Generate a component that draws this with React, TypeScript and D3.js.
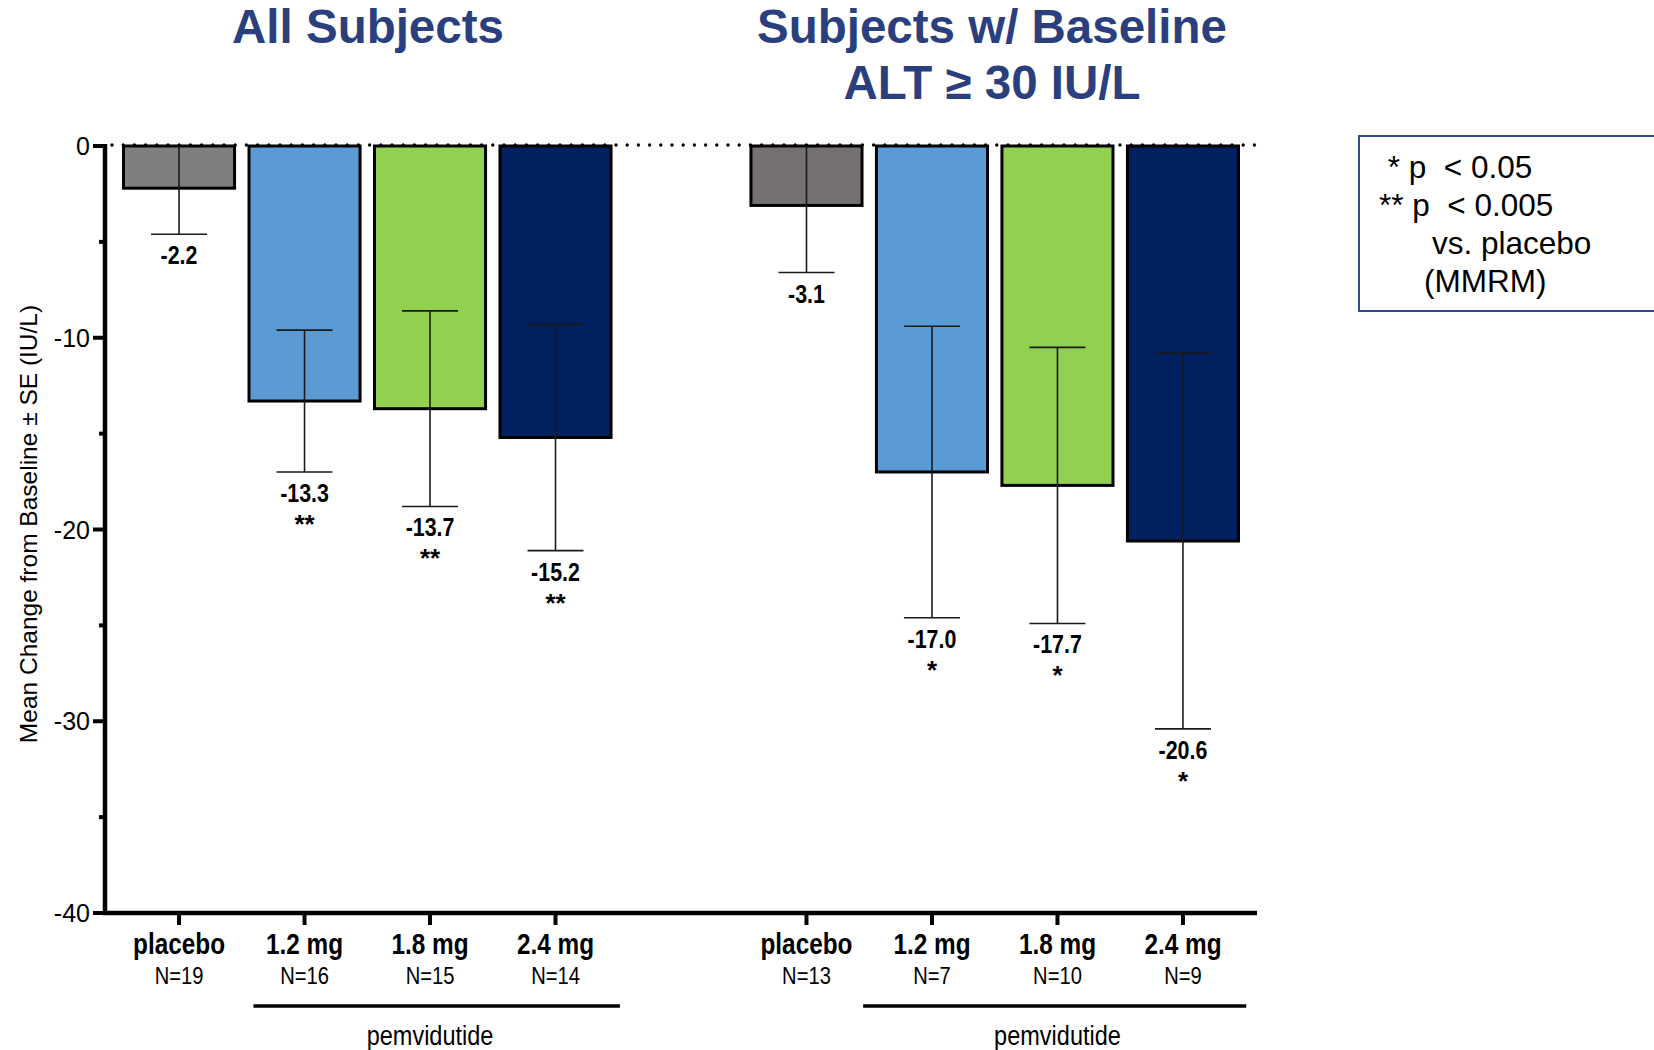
import React from "react";
import * as d3 from "d3";

const doses = ["placebo", "1.2 mg", "1.8 mg", "2.4 mg"];
const nAll = [19, 16, 15, 14];
const nAlt = [13, 7, 10, 9];
const meanAll = [-2.2, -13.3, -13.7, -15.2];
const seAll = [2.4, 3.7, 5.1, 5.9];
const meanAlt = [-3.1, -17.0, -17.7, -20.6];
const seAlt = [3.5, 7.6, 7.2, 9.8];
const starsAll = ["", "**", "**", "**"];
const starsAlt = ["", "*", "*", "*"];
const colorsAll = ["#7F7F7F", "#5B9BD5", "#92D050", "#002060"];
const colorsAlt = ["#767171", "#5B9BD5", "#92D050", "#002060"];
const yTicks = [0, -10, -20, -30, -40];
const yMinorTicks = [-5, -15, -25, -35];
const titleLeft = ["All Subjects"];
const titleRight = ["Subjects w/ Baseline", "ALT \u2265 30 IU/L"];
const legendLines = [" * p  < 0.05", "** p  < 0.005", "vs. placebo", "(MMRM)"];
const yLabel = "Mean Change from Baseline \u00B1 SE (IU/L)";
const groupLabel = "pemvidutide";

type Row = { key: string; dose: string; n: number; mean: number; se: number; star: string; color: string };

const rowsAll: Row[] = doses.map((d, i) => ({ key: "A" + i, dose: d, n: nAll[i], mean: meanAll[i], se: seAll[i], star: starsAll[i], color: colorsAll[i] }));
const rowsAlt: Row[] = doses.map((d, i) => ({ key: "B" + i, dose: d, n: nAlt[i], mean: meanAlt[i], se: seAlt[i], star: starsAlt[i], color: colorsAlt[i] }));
const rows = [...rowsAll, ...rowsAlt];
const domainKeys = [...rowsAll.map((r) => r.key), "gap", ...rowsAlt.map((r) => r.key)];

const W = 1654;
const H = 1050;
const axisX = 105;
const axisRight = 1257;
const FONT = "'Liberation Sans', Arial, Helvetica, sans-serif";
const TITLE_COLOR = "#2B3F7E";
const SX = 0.84;

function NText(props: { x: number; y: number; size: number; bold?: boolean; children: React.ReactNode }) {
  return (
    <text
      transform={`translate(${props.x},${props.y}) scale(${SX},1)`}
      textAnchor="middle"
      fontSize={props.size}
      fontWeight={props.bold ? "bold" : "normal"}
      fill="#000"
    >
      {props.children}
    </text>
  );
}

export default function App() {
  const x = d3.scalePoint<string>().domain(domainKeys).range([axisX, axisRight]).padding(0.59);
  const y = d3.scaleLinear().domain([0, -40]).range([146, 913]);
  const step = x.step();
  const bw = step * 0.885;
  const capW = 56;

  const bracketLeftF = [0.46, 0.62];
  const bracketRightF = [0.58, 0.57];
  const brackets = [rowsAll, rowsAlt].map((g, i) => ({
    x1: (x(g[1].key) as number) - bw * bracketLeftF[i],
    x2: (x(g[3].key) as number) + bw * bracketRightF[i],
    cx: x(g[2].key) as number,
  }));

  return (
    <svg width={W} height={H} style={{ position: "absolute", left: 0, top: 0, background: "#fff" }} fontFamily={FONT}>
      {/* titles */}
      <text x={368} y={43} textAnchor="middle" fontSize={47.5} fontWeight="bold" fill={TITLE_COLOR}>
        {titleLeft[0]}
      </text>
      {titleRight.map((t, i) => (
        <text key={t} x={992} y={43 + i * 56} textAnchor="middle" fontSize={47.5} fontWeight="bold" fill={TITLE_COLOR}>
          {t}
        </text>
      ))}

      {/* bars */}
      {rows.map((r) => {
        const cx = x(r.key) as number;
        return (
          <rect key={"bar" + r.key} x={cx - bw / 2} y={y(0)} width={bw} height={y(r.mean) - y(0)} fill={r.color} stroke="#000" strokeWidth={3} />
        );
      })}

      {/* error bars */}
      {rows.map((r) => {
        const cx = x(r.key) as number;
        const hi = r.mean + r.se;
        const lo = r.mean - r.se;
        const yTop = y(Math.min(hi, 0));
        return (
          <g key={"err" + r.key} stroke="#1a1a1a" strokeWidth={1.6}>
            <line x1={cx} x2={cx} y1={yTop} y2={y(lo)} />
            <line x1={cx - capW / 2} x2={cx + capW / 2} y1={y(lo)} y2={y(lo)} />
            {hi < 0 && <line x1={cx - capW / 2} x2={cx + capW / 2} y1={y(hi)} y2={y(hi)} />}
          </g>
        );
      })}

      {/* value labels + stars */}
      {rows.map((r) => {
        const cx = x(r.key) as number;
        const yl = y(r.mean - r.se);
        return (
          <g key={"lab" + r.key}>
            <NText x={cx} y={yl + 30} size={25.5} bold>
              {r.mean.toFixed(1)}
            </NText>
            {r.star && (
              <text x={cx} y={yl + 61} textAnchor="middle" fontSize={26} fontWeight="bold" fill="#000">
                {r.star}
              </text>
            )}
          </g>
        );
      })}

      {/* dotted zero line */}
      <line x1={112} x2={axisRight} y1={y(0) - 1} y2={y(0) - 1} stroke="#000" strokeWidth={3.4} strokeDasharray="0 11.2" strokeLinecap="round" />

      {/* y axis */}
      <line x1={axisX} x2={axisX} y1={y(0) - 2} y2={y(-40) + 2} stroke="#000" strokeWidth={4.5} />
      {yTicks.map((t) => (
        <g key={"yt" + t}>
          <line x1={axisX - 12} x2={axisX} y1={y(t)} y2={y(t)} stroke="#000" strokeWidth={4} />
          <text x={90} y={y(t) + 9} textAnchor="end" fontSize={25} fill="#000">
            {t}
          </text>
        </g>
      ))}
      {yMinorTicks.map((t) => (
        <line key={"ym" + t} x1={axisX - 6} x2={axisX} y1={y(t)} y2={y(t)} stroke="#000" strokeWidth={4} />
      ))}
      <text transform={`translate(37,524) rotate(-90)`} textAnchor="middle" fontSize={24.5} fill="#000">
        {yLabel}
      </text>

      {/* x axis */}
      <line x1={axisX - 2} x2={axisRight} y1={y(-40)} y2={y(-40)} stroke="#000" strokeWidth={4.5} />
      {rows.map((r) => {
        const cx = x(r.key) as number;
        return (
          <g key={"xt" + r.key}>
            <line x1={cx} x2={cx} y1={y(-40)} y2={y(-40) + 12} stroke="#000" strokeWidth={4} />
            <NText x={cx} y={954} size={29} bold>
              {r.dose}
            </NText>
            <NText x={cx} y={984} size={24}>
              {"N=" + r.n}
            </NText>
          </g>
        );
      })}
      {brackets.map((b, i) => (
        <g key={"br" + i}>
          <line x1={b.x1} x2={b.x2} y1={1006} y2={1006} stroke="#000" strokeWidth={3.5} />
          <NText x={b.cx} y={1045} size={28}>
            {groupLabel}
          </NText>
        </g>
      ))}

      {/* legend */}
      <rect x={1359} y={136} width={320} height={175} fill="#fff" stroke="#2F4B8F" strokeWidth={2} />
      {legendLines.map((t, i) => (
        <text
          key={"lg" + i}
          x={[1379, 1379, 1432, 1424][i]}
          y={178 + i * 38}
          fontSize={31.5}
          fill="#000"
          style={{ whiteSpace: "pre" }}
        >
          {t}
        </text>
      ))}
    </svg>
  );
}
